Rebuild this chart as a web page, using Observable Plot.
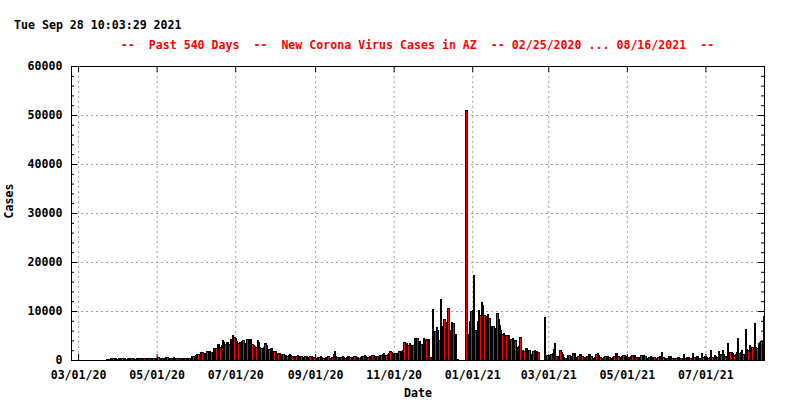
<!DOCTYPE html>
<html><head><meta charset="utf-8">
<script src="https://cdn.jsdelivr.net/npm/d3@7"></script>
<script src="https://cdn.jsdelivr.net/npm/@observablehq/plot@0.6"></script>
<style>
body{margin:0;background:#fff;font-family:"DejaVu Sans Mono",monospace;font-weight:bold;font-size:11.6px;}
#head{position:relative;width:800px;height:56px;}
.t{position:absolute;white-space:pre;line-height:11.6px;}
#chart svg{display:block;}
</style></head><body>
<div id="head">
<div class="t" style="left:14px;top:20px;color:#000">Tue Sep 28 10:03:29 2021</div>
<div class="t" style="left:71px;width:693px;text-align:center;top:40px;color:#f00">--  Past 540 Days  --  New Corona Virus Cases in AZ  -- 02/25/2020 ... 08/16/2021  --</div>
</div>
<div id="chart"></div>
<script>
// Daily new cases, Arizona
const feb20 = [0,0,0,0,0];
const mar20 = [0,0,0,0,0,0,0,0,0,0,0,0,0,0,0,0,0,0,0,0,0,0,150,200,180,250,220,300,250,280,200];
const apr20 = [250,300,280,250,300,250,200,300,350,300,250,280,250,200,300,350,300,280,250,200,300,350,400,300,250,200,250,400,350,300];
const may20 = [300,450,350,300,250,300,400,450,500,400,350,300,350,450,400,350,300,400,400,350,300,350,300,250,250,300,250,700,650,800,1000];
const jun20 = [1100,1200,1150,1500,1550,1400,1350,1300,1700,1650,1700,1600,1500,2400,2300,2400,3200,3100,2500,3000,3900,3500,3100,3600,3500,3200,4100,3800,4900,4600];
const jul20 = [4300,3800,3400,3500,3600,3800,4000,3400,3300,4100,3900,4200,4100,3100,3000,2800,2600,3900,3600,2600,2300,1800,2500,3400,3000,2000,2100,2400,2300,1600,1800];
const aug20 = [1800,1300,1400,1300,1000,1100,1200,1000,900,800,1000,1100,900,800,700,600,700,900,800,600,700,500,600,800,700,600,500,700,800,600,500];
const sep20 = [400,300,500,600,700,500,400,300,500,600,700,400,300,500,1200,1700,700,600,400,500,600,700,500,400,600,700,800,500,400,600];
const oct20 = [700,800,600,500,400,600,700,800,900,700,500,600,700,800,900,1000,800,600,700,800,900,1000,1100,1300,1000,900,1200,1300,1700,1500,1400];
const nov20 = [1100,1300,1400,1200,1700,1600,1800,2000,3500,2600,3400,3000,3300,2900,2500,3000,4400,4300,4400,3600,3700,3200,2500,4300,4200,4100,4000,4200,600,300];
const dec20 = [10300,5400,5800,6700,6000,4000,12400,4800,6800,8200,7500,7600,10600,6100,4900,7750,7500,5300,5300,100,0,0,0,0,0,0,50900,5300,5300,7800,9900];
const jan21 = [10100,17300,6100,5100,7800,10100,9000,11700,11200,9000,8800,7300,9200,8500,6800,5600,6800,6500,6000,9500,8200,7100,6100,5300,5400,5100,5100,4900,4900,3000,4100];
const feb21 = [4400,2900,3900,2200,2600,2700,4600,2000,2000,1700,2300,2400,2000,1900,1200,1200,1700,1900,1800,1800,1500,0,0,0,0,8700,950,1000];
const mar21 = [950,1000,1200,1300,2200,3400,800,500,700,2000,1500,1200,600,300,400,1000,1000,700,700,1400,1300,500,600,800,1200,1200,700,500,400,600,800];
const apr21 = [1200,1200,700,400,300,600,1200,1400,1000,600,300,400,600,700,700,800,600,400,300,500,800,1400,1300,800,600,500,700,900,900,700];
const may21 = [600,400,500,800,900,800,1000,600,400,500,600,900,700,1000,700,400,300,600,700,500,600,500,300,400,600,700,800,1600,600,300,300];
const jun21 = [300,700,800,700,400,300,300,400,500,500,400,300,300,1200,400,500,600,500,300,300,1400,500,600,700,700,400,300,1400,600,700];
const jul21 = [700,500,300,600,2000,600,400,1000,700,500,1700,600,1200,2000,1200,800,700,3300,1400,1500,1500,1300,1000,1200,1500,4400,1400,1500,2000,1200,1100];
const aug21 = [6300,2200,2000,2900,2500,2600,2300,7500,2500,2400,3300,3500,3700,3200,8800];

const segments = [
  ["2020-02-25", feb20], ["2020-03-01", mar20], ["2020-04-01", apr20], ["2020-05-01", may20],
  ["2020-06-01", jun20], ["2020-07-01", jul20], ["2020-08-01", aug20], ["2020-09-01", sep20],
  ["2020-10-01", oct20], ["2020-11-01", nov20], ["2020-12-01", dec20], ["2021-01-01", jan21],
  ["2021-02-01", feb21], ["2021-03-01", mar21], ["2021-04-01", apr21], ["2021-05-01", may21],
  ["2021-06-01", jun21], ["2021-07-01", jul21], ["2021-08-01", aug21]
];

const xTicks = ["2020-03-01","2020-05-01","2020-07-01","2020-09-01","2020-11-01","2021-01-01","2021-03-01","2021-05-01","2021-07-01"];
const yTicks = [0,10000,20000,30000,40000,50000,60000];
const xLabel = "Date";
const yLabel = "Cases";

const data = [];
for (const [start, vals] of segments) {
  const s = new Date(start + "T00:00:00Z");
  vals.forEach((v, i) => { if (v > 0) data.push({date: d3.utcDay.offset(s, i), cases: v}); });
}
const xTickDates = xTicks.map(s => new Date(s + "T00:00:00Z"));
const yGrid = yTicks.filter(v => v > 0 && v < 60000);
const yMinor = d3.range(0, 60001, 2000);

const W = 800, H = 344, mL = 71, mR = 36, mT = 10, mB = 40;
const pw = W - mL - mR, ph = H - mT - mB;
const grid = {stroke: "#a0a0a0", strokeDasharray: "2,3", strokeWidth: 1};
const BAR_FILL = "#ff0001";

const chart = Plot.plot({
  width: W, height: H,
  marginLeft: mL, marginRight: mR, marginTop: mT, marginBottom: mB,
  style: {fontFamily: "DejaVu Sans Mono", fontWeight: "bold", fontSize: "11.6px", color: "#000", background: "#fff", overflow: "visible"},
  x: {type: "utc", domain: [new Date(Date.UTC(2020,1,24,12)), new Date(Date.UTC(2021,7,15,12))]},
  y: {domain: [0, 60000]},
  marks: [
    Plot.ruleY(yGrid, {y: d => d, ...grid}),
    Plot.ruleX(xTickDates, {x: d => d, ...grid}),
    Plot.rectY(data, {x1: "date", x2: d => d3.utcDay.offset(d.date, 1), y: "cases", fill: BAR_FILL, stroke: "#000", strokeWidth: 1}),
    // inward ticks (left, right, bottom, top)
    Plot.tickY(yMinor, {y: d => d, insetRight: pw - 3, stroke: "#000"}),
    Plot.tickY(yMinor, {y: d => d, insetLeft: pw - 3, stroke: "#000"}),
    Plot.tickY(yTicks, {y: d => d, insetRight: pw - 6, stroke: "#000"}),
    Plot.tickY(yTicks, {y: d => d, insetLeft: pw - 6, stroke: "#000"}),
    Plot.tickX(xTickDates, {x: d => d, insetTop: ph - 6, stroke: "#000"}),
    Plot.tickX(xTickDates, {x: d => d, insetBottom: ph - 6, stroke: "#000"}),
    Plot.frame({stroke: "#000"}),
    Plot.axisX(xTickDates, {anchor: "bottom", tickSize: 0, tickPadding: 10, tickFormat: d3.utcFormat("%m/%d/%y"), label: null}),
    Plot.axisY(yTicks, {anchor: "left", tickSize: 0, tickPadding: 9, tickFormat: d3.format("d"), label: null}),
    Plot.text([yLabel], {frameAnchor: "left", dx: -62, dy: 5, rotate: -90, fill: "#000"}),
    Plot.text([xLabel], {frameAnchor: "bottom", dy: 36, fill: "#000"})
  ]
});
document.getElementById("chart").appendChild(chart);

// pixel-snap the bars like a raster plotter: shared black borders, red only where a box is wide enough
function parseTranslate(el) {
  const tr = el.getAttribute && el.getAttribute("transform");
  if (!tr) return [0, 0];
  const m = tr.match(/translate\(\s*([-\d.e]+)[,\s]*([-\d.e]+)?\s*\)/);
  return m ? [+m[1], +(m[2] || 0)] : [0, 0];
}
const rects = Array.from(chart.querySelectorAll("rect")).filter(r => {
  let el = r;
  while (el && el !== chart) {
    const f = el.getAttribute("fill");
    if (f && f.toLowerCase() === BAR_FILL) return true;
    el = el.parentNode;
  }
  return false;
});
const groups = new Set(rects.map(r => r.parentNode));
groups.forEach(g => {
  const [tx, ty] = parseTranslate(g);
  g.removeAttribute("transform");
  g.setAttribute("shape-rendering", "crispEdges");
  g.setAttribute("fill", "#ff0000");
  g.querySelectorAll("rect").forEach(r => {
    const [rx, ry] = parseTranslate(r);
    r.removeAttribute("transform");
    const x = +r.getAttribute("x") + tx + rx, w = +r.getAttribute("width");
    const y = +r.getAttribute("y") + ty + ry, h = +r.getAttribute("height");
    const xl = Math.floor(x), xr = Math.max(xl + 1, Math.floor(x + w));
    const yt = Math.floor(y), yb = Math.floor(y + h);
    r.setAttribute("x", xl + 0.5); r.setAttribute("width", xr - xl);
    r.setAttribute("y", yt + 0.5); r.setAttribute("height", Math.max(0, yb - yt));
  });
});
</script>
</body></html>
